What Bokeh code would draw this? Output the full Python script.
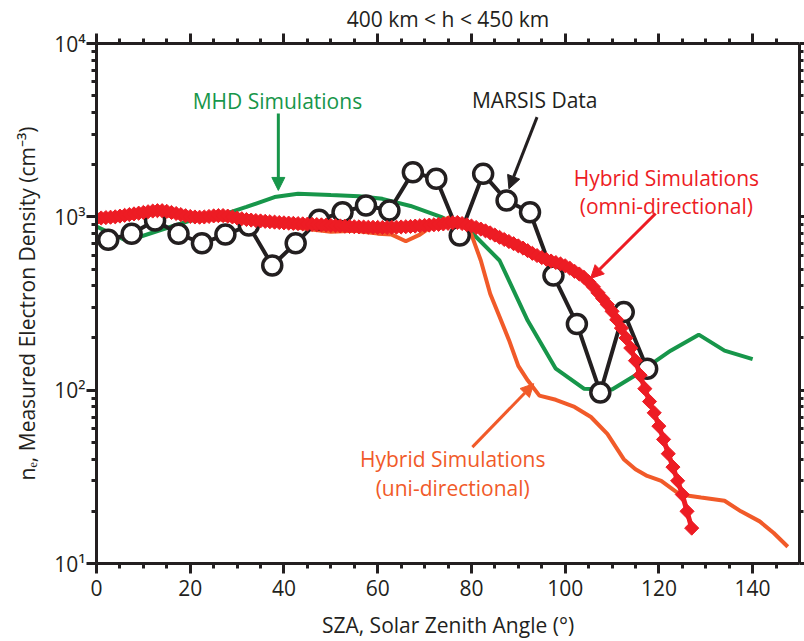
import math

from bokeh.embed import file_html
from bokeh.models import (Arrow, CustomJSTickFormatter, FixedTicker, Label,
                          LinearAxis, LogAxis, NormalHead, Range1d, Title)
from bokeh.plotting import figure
from bokeh.resources import INLINE

# ---- data -----------------------------------------------------------------
# MARSIS measured electron density, binned in 5 degree SZA bins
marsis_sza = [2.5, 7.5, 12.5, 17.5, 22.5, 27.5, 32.5, 37.5, 42.5, 47.5, 52.5, 57.5,
              62.5, 67.5, 72.5, 77.5, 82.5, 87.5, 92.5, 97.5, 102.5, 107.5, 112.5, 117.5]
marsis_ne = [737, 798, 952, 798, 704, 790, 891, 524, 704, 961, 1064, 1162,
             1087, 1808, 1657, 780, 1770, 1242, 1063, 458, 241, 97, 282, 133]

# MHD model
mhd_sza = [0, 6.5, 14, 20, 26, 32, 38, 43, 50, 56, 61, 67,
           73.5, 80, 86, 92, 98, 104, 110, 115, 122.5, 128.5, 134, 140]
mhd_ne = [880, 725, 845, 950, 1010, 1140, 1300, 1360, 1335, 1315, 1270, 1155,
          1000, 815, 560, 252, 133, 102, 101, 122, 169, 209, 169, 151]

# Hybrid model, uni-directional
uni_sza = [0, 10, 20, 30, 40, 45, 50, 55, 60, 63, 66, 69, 72, 75.5, 78, 80, 82, 84,
           86, 88, 90, 92, 94.5, 98, 102, 105.5, 109, 112.5, 115, 117.5, 120.5,
           124.5, 129, 134, 137.5, 141.5, 144.5, 147.5]
uni_ne = [960, 1040, 990, 950, 890, 850, 820, 830, 800, 790, 723, 790, 900, 1000,
          900, 790, 560, 360, 265, 195, 138, 114, 93, 88, 80, 70, 56, 40, 35, 32, 30,
          25, 24, 23, 20, 17.5, 15, 12.5]

# Hybrid model, omni-directional (1 degree steps)
omni_sza = list(range(0, 128))
omni_ne = [980, 985, 990, 995, 1000, 1010, 1020, 1030, 1040, 1050,
           1060, 1070, 1080, 1085, 1085, 1075, 1060, 1045, 1030, 1015,
           1005, 998, 995, 998, 1005, 1012, 1016, 1017, 1010, 998,
           985, 975, 965, 958, 952, 947, 942, 937, 932, 927,
           923, 920, 917, 914, 911, 908, 905, 902, 899, 896,
           892, 889, 886, 883, 880, 877, 875, 873, 871, 870,
           869, 868, 868, 869, 871, 874, 877, 880, 884, 888,
           892, 896, 900, 905, 910, 917, 924, 928, 915, 900,
           885, 868, 850, 830, 808, 785, 762, 740, 720, 700,
           680, 660, 638, 616, 598, 582, 568, 556, 545, 535,
           522, 505, 485, 468, 448, 422, 395, 365, 338, 312,
           285, 255, 228, 200, 175, 148, 122, 102, 86, 74,
           62, 52, 43, 36, 30, 25, 20, 16]

# axis ticks
x_major = [0, 20, 40, 60, 80, 100, 120, 140]
x_minor = [5 * k for k in range(1, 30) if (5 * k) % 20]
y_major = [10, 100, 1000, 10000]
y_minor = [m * 10 ** k for k in range(1, 4) for m in range(2, 10)]
y_tick_labels = ["10\u00b9", "10\u00b2", "10\u00b3", "10\u2074"]

# ---- styling ----------------------------------------------------------------
FONT = "Open Sans"
INK = "#231F20"
GREEN = "#17964A"
ORANGE = "#F15A29"
RED = "#ED1C24"

p = figure(width=804, height=641, x_range=Range1d(0, 150), y_range=Range1d(10, 10000),
           y_axis_type="log", x_axis_location=None, y_axis_location=None, title=None,
           output_backend="svg", toolbar_location=None,
           min_border_left=96, min_border_right=5, min_border_top=43, min_border_bottom=78)
p.outline_line_color = None
p.xgrid.visible = False
p.ygrid.visible = False
p.background_fill_color = "white"
p.border_fill_color = "white"

blank = CustomJSTickFormatter(code="return ''")


def style_axis(ax, tick_out, minor_out):
    ax.axis_line_width = 3
    ax.axis_line_color = INK
    ax.major_tick_line_width = 3
    ax.minor_tick_line_width = 3
    ax.major_tick_line_color = INK
    ax.minor_tick_line_color = INK
    ax.major_tick_in = 0
    ax.minor_tick_in = 0
    ax.major_tick_out = tick_out
    ax.minor_tick_out = minor_out
    ax.major_label_text_font = FONT
    ax.major_label_text_font_size = "21px"
    ax.major_label_text_color = INK
    ax.axis_label_text_font = FONT
    ax.axis_label_text_font_size = "21px"
    ax.axis_label_text_font_style = "normal"
    ax.axis_label_text_color = INK


bottom = LinearAxis(ticker=FixedTicker(ticks=x_major, minor_ticks=x_minor),
                    major_label_standoff=6,
                    axis_label="SZA, Solar Zenith Angle (\u00b0)", axis_label_standoff=12)
style_axis(bottom, 10, 5)
top = LinearAxis(ticker=FixedTicker(ticks=x_major, minor_ticks=x_minor),
                 formatter=blank, major_label_standoff=0)
style_axis(top, 10, 5)
left = LogAxis(ticker=FixedTicker(ticks=y_major, minor_ticks=y_minor),
               major_label_overrides=dict(zip(y_major, y_tick_labels)),
               major_label_standoff=1,
               axis_label="n\u2091, Measured Electron Density (cm\u207b\u00b3)",
               axis_label_standoff=10)
style_axis(left, 10, 5)
right = LogAxis(ticker=FixedTicker(ticks=y_major, minor_ticks=y_minor),
                formatter=blank, major_label_standoff=0)
style_axis(right, 5, 4)

p.add_layout(bottom, "below")
p.add_layout(top, "above")
p.add_layout(left, "left")
p.add_layout(right, "right")
p.add_layout(Title(text="400 km < h < 450 km", align="center", text_font=FONT,
                   text_font_size="21px", text_font_style="normal", text_color=INK,
                   standoff=1), "above")

# ---- curves ------------------------------------------------------------------
p.line(mhd_sza, mhd_ne, line_width=4, line_color=GREEN)
p.line(uni_sza, uni_ne, line_width=4, line_color=ORANGE)
p.line(marsis_sza, marsis_ne, line_width=4, line_color=INK)
p.scatter(marsis_sza, marsis_ne, marker="circle", size=19, fill_color="white",
          line_color=INK, line_width=3.5)
p.line(omni_sza, omni_ne, line_width=5, line_color=RED)
p.scatter(omni_sza, omni_ne, marker="square", angle=math.pi / 4, size=10,
          fill_color=RED, line_color=RED)

# ---- annotations -------------------------------------------------------------


def text(x, y, s, color=INK):
    p.add_layout(Label(x=x, y=y, text=s, text_align="center", text_baseline="middle",
                       text_font=FONT, text_font_size="21px", text_color=color))


text(38.6, 4660, "MHD Simulations", GREEN)
text(93.5, 4700, "MARSIS Data", INK)
text(121.6, 1686, "Hybrid Simulations", RED)
text(121.6, 1162, "(omni-directional)", RED)
text(76.0, 40.3, "Hybrid Simulations", ORANGE)
text(76.0, 27.4, "(uni-directional)", ORANGE)


def arrow(x0, y0, x1, y1, color):
    p.add_layout(Arrow(end=NormalHead(size=13, fill_color=color, line_color=color, line_width=1),
                       x_start=x0, y_start=y0, x_end=x1, y_end=y1,
                       line_color=color, line_width=3))


arrow(38.8, 3950, 38.8, 1420, GREEN)
arrow(94.0, 3760, 88.0, 1450, INK)
arrow(119.3, 1045, 105.4, 441, RED)
arrow(80.2, 46.9, 93.3, 109, ORANGE)

open("out.html", "w").write(file_html(p, INLINE))
